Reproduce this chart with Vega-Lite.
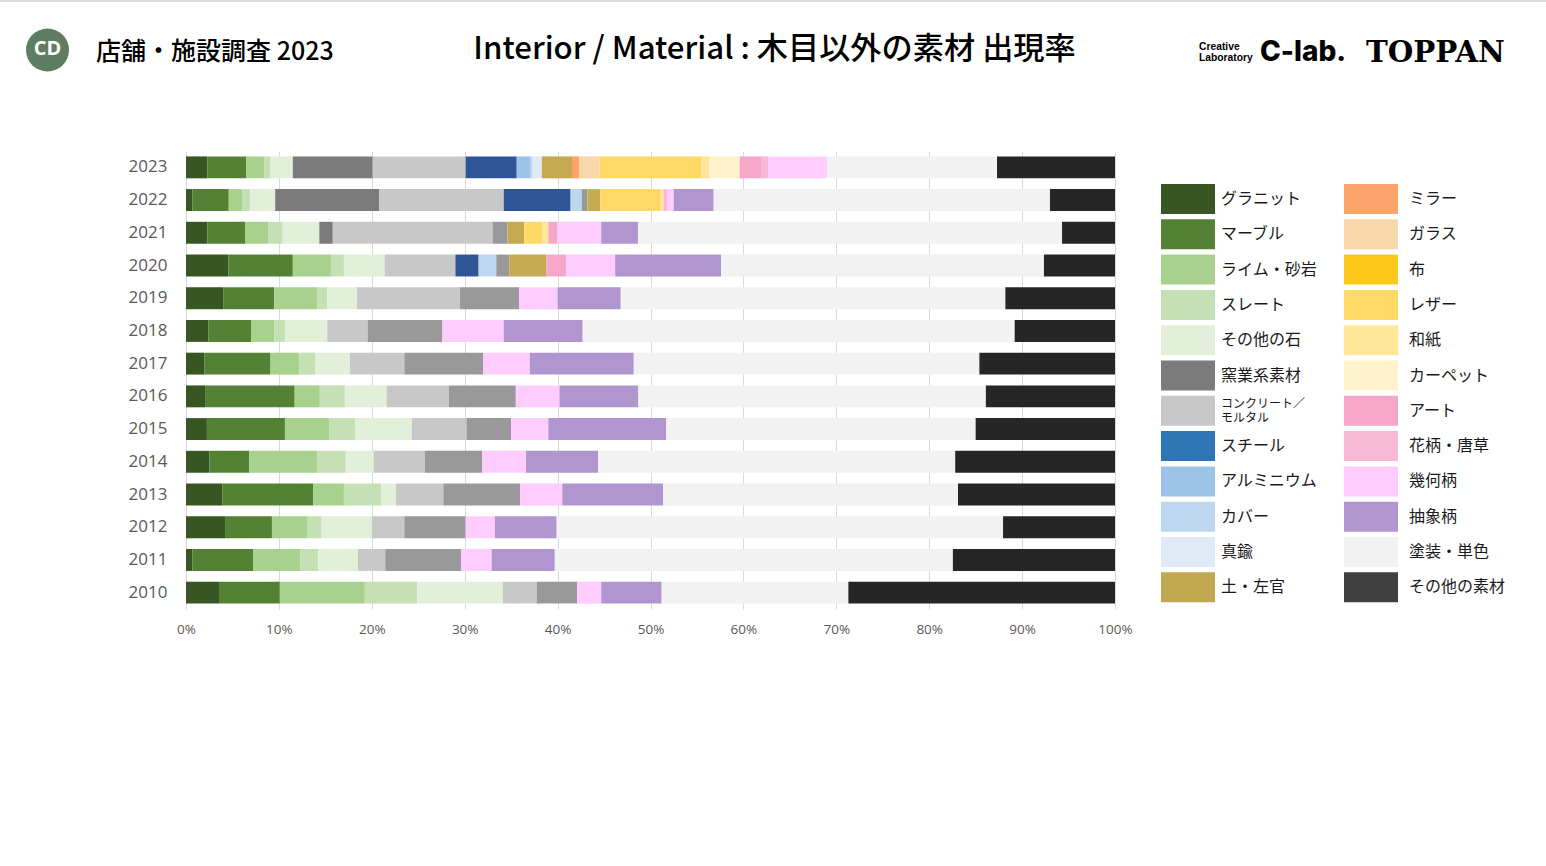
{"$schema":"https://vega.github.io/schema/vega-lite/v6.json","width":929,"height":458,"autosize":"none","padding":{"left":186,"top":151,"right":431,"bottom":257},"background":"#ffffff","config":{"view":{"stroke":null},"font":"Noto Sans CJK JP"},"resolve":{"scale":{"x":"independent","y":"independent","color":"independent"}},"layer":[{"data":{"values":[
{"year":2023,"material":"グラニット","value":2.3},{"year":2023,"material":"マーブル","value":4.2},{"year":2023,"material":"ライム・砂岩","value":1.9},{"year":2023,"material":"スレート","value":0.7},{"year":2023,"material":"その他の石","value":2.4},{"year":2023,"material":"窯業系素材","value":8.6},{"year":2023,"material":"コンクリート／モルタル","value":10.0},{"year":2023,"material":"スチール","value":5.5},{"year":2023,"material":"アルミニウム","value":1.5},{"year":2023,"material":"カバー","value":0.2},{"year":2023,"material":"真鍮","value":1.0},{"year":2023,"material":"土・左官","value":3.25},{"year":2023,"material":"ミラー","value":0.75},{"year":2023,"material":"ガラス","value":2.2},{"year":2023,"material":"レザー","value":11.0},{"year":2023,"material":"和紙","value":0.8},{"year":2023,"material":"カーペット","value":3.3},{"year":2023,"material":"アート","value":2.3},{"year":2023,"material":"花柄・唐草","value":0.8},{"year":2023,"material":"幾何柄","value":6.3},{"year":2023,"material":"塗装・単色","value":18.3},{"year":2023,"material":"その他の素材","value":12.7},
{"year":2022,"material":"グラニット","value":0.7},{"year":2022,"material":"マーブル","value":3.9},{"year":2022,"material":"ライム・砂岩","value":1.5},{"year":2022,"material":"スレート","value":0.8},{"year":2022,"material":"その他の石","value":2.7},{"year":2022,"material":"窯業系素材","value":11.2},{"year":2022,"material":"コンクリート／モルタル","value":13.4},{"year":2022,"material":"スチール","value":7.2},{"year":2022,"material":"カバー","value":1.2},{"year":2022,"material":"金属その他","value":0.6},{"year":2022,"material":"土・左官","value":1.4},{"year":2022,"material":"レザー","value":6.5},{"year":2022,"material":"和紙","value":0.3},{"year":2022,"material":"花柄・唐草","value":0.4},{"year":2022,"material":"幾何柄","value":0.7},{"year":2022,"material":"抽象柄","value":4.3},{"year":2022,"material":"塗装・単色","value":36.2},{"year":2022,"material":"その他の素材","value":7.0},
{"year":2021,"material":"グラニット","value":2.3},{"year":2021,"material":"マーブル","value":4.1},{"year":2021,"material":"ライム・砂岩","value":2.5},{"year":2021,"material":"スレート","value":1.5},{"year":2021,"material":"その他の石","value":3.95},{"year":2021,"material":"窯業系素材","value":1.45},{"year":2021,"material":"コンクリート／モルタル","value":17.2},{"year":2021,"material":"金属その他","value":1.6},{"year":2021,"material":"土・左官","value":1.8},{"year":2021,"material":"レザー","value":2.0},{"year":2021,"material":"和紙","value":0.6},{"year":2021,"material":"アート","value":1.0},{"year":2021,"material":"幾何柄","value":4.7},{"year":2021,"material":"抽象柄","value":3.95},{"year":2021,"material":"塗装・単色","value":45.65},{"year":2021,"material":"その他の素材","value":5.7},
{"year":2020,"material":"グラニット","value":4.55},{"year":2020,"material":"マーブル","value":6.95},{"year":2020,"material":"ライム・砂岩","value":4.1},{"year":2020,"material":"スレート","value":1.4},{"year":2020,"material":"その他の石","value":4.4},{"year":2020,"material":"コンクリート／モルタル","value":7.6},{"year":2020,"material":"スチール","value":2.5},{"year":2020,"material":"カバー","value":1.9},{"year":2020,"material":"金属その他","value":1.4},{"year":2020,"material":"土・左官","value":4.0},{"year":2020,"material":"アート","value":2.1},{"year":2020,"material":"幾何柄","value":5.3},{"year":2020,"material":"抽象柄","value":11.4},{"year":2020,"material":"塗装・単色","value":34.75},{"year":2020,"material":"その他の素材","value":7.65},
{"year":2019,"material":"グラニット","value":4.0},{"year":2019,"material":"マーブル","value":5.5},{"year":2019,"material":"ライム・砂岩","value":4.6},{"year":2019,"material":"スレート","value":1.1},{"year":2019,"material":"その他の石","value":3.2},{"year":2019,"material":"コンクリート／モルタル","value":11.1},{"year":2019,"material":"金属その他","value":6.35},{"year":2019,"material":"幾何柄","value":4.15},{"year":2019,"material":"抽象柄","value":6.8},{"year":2019,"material":"塗装・単色","value":41.4},{"year":2019,"material":"その他の素材","value":11.8},
{"year":2018,"material":"グラニット","value":2.4},{"year":2018,"material":"マーブル","value":4.6},{"year":2018,"material":"ライム・砂岩","value":2.5},{"year":2018,"material":"スレート","value":1.2},{"year":2018,"material":"その他の石","value":4.5},{"year":2018,"material":"コンクリート／モルタル","value":4.35},{"year":2018,"material":"金属その他","value":8.05},{"year":2018,"material":"幾何柄","value":6.6},{"year":2018,"material":"抽象柄","value":8.5},{"year":2018,"material":"塗装・単色","value":46.5},{"year":2018,"material":"その他の素材","value":10.8},
{"year":2017,"material":"グラニット","value":2.0},{"year":2017,"material":"マーブル","value":7.1},{"year":2017,"material":"ライム・砂岩","value":3.1},{"year":2017,"material":"スレート","value":1.7},{"year":2017,"material":"その他の石","value":3.75},{"year":2017,"material":"コンクリート／モルタル","value":5.85},{"year":2017,"material":"金属その他","value":8.5},{"year":2017,"material":"幾何柄","value":5.0},{"year":2017,"material":"抽象柄","value":11.2},{"year":2017,"material":"塗装・単色","value":37.2},{"year":2017,"material":"その他の素材","value":14.6},
{"year":2016,"material":"グラニット","value":2.05},{"year":2016,"material":"マーブル","value":9.65},{"year":2016,"material":"ライム・砂岩","value":2.7},{"year":2016,"material":"スレート","value":2.7},{"year":2016,"material":"その他の石","value":4.5},{"year":2016,"material":"コンクリート／モルタル","value":6.7},{"year":2016,"material":"金属その他","value":7.2},{"year":2016,"material":"幾何柄","value":4.7},{"year":2016,"material":"抽象柄","value":8.5},{"year":2016,"material":"塗装・単色","value":37.4},{"year":2016,"material":"その他の素材","value":13.9},
{"year":2015,"material":"グラニット","value":2.25},{"year":2015,"material":"マーブル","value":8.4},{"year":2015,"material":"ライム・砂岩","value":4.75},{"year":2015,"material":"スレート","value":2.8},{"year":2015,"material":"その他の石","value":6.1},{"year":2015,"material":"コンクリート／モルタル","value":5.9},{"year":2015,"material":"金属その他","value":4.8},{"year":2015,"material":"幾何柄","value":4.0},{"year":2015,"material":"抽象柄","value":12.7},{"year":2015,"material":"塗装・単色","value":33.3},{"year":2015,"material":"その他の素材","value":15.0},
{"year":2014,"material":"グラニット","value":2.5},{"year":2014,"material":"マーブル","value":4.3},{"year":2014,"material":"ライム・砂岩","value":7.3},{"year":2014,"material":"スレート","value":3.1},{"year":2014,"material":"その他の石","value":3.0},{"year":2014,"material":"コンクリート／モルタル","value":5.5},{"year":2014,"material":"金属その他","value":6.2},{"year":2014,"material":"幾何柄","value":4.7},{"year":2014,"material":"抽象柄","value":7.75},{"year":2014,"material":"塗装・単色","value":38.45},{"year":2014,"material":"その他の素材","value":17.2},
{"year":2013,"material":"グラニット","value":3.9},{"year":2013,"material":"マーブル","value":9.8},{"year":2013,"material":"ライム・砂岩","value":3.3},{"year":2013,"material":"スレート","value":4.0},{"year":2013,"material":"その他の石","value":1.6},{"year":2013,"material":"コンクリート／モルタル","value":5.1},{"year":2013,"material":"金属その他","value":8.25},{"year":2013,"material":"幾何柄","value":4.55},{"year":2013,"material":"抽象柄","value":10.85},{"year":2013,"material":"塗装・単色","value":31.75},{"year":2013,"material":"その他の素材","value":16.9},
{"year":2012,"material":"グラニット","value":4.2},{"year":2012,"material":"マーブル","value":5.05},{"year":2012,"material":"ライム・砂岩","value":3.85},{"year":2012,"material":"スレート","value":1.5},{"year":2012,"material":"その他の石","value":5.4},{"year":2012,"material":"コンクリート／モルタル","value":3.5},{"year":2012,"material":"金属その他","value":6.6},{"year":2012,"material":"幾何柄","value":3.15},{"year":2012,"material":"抽象柄","value":6.65},{"year":2012,"material":"塗装・単色","value":48.05},{"year":2012,"material":"その他の素材","value":12.05},
{"year":2011,"material":"グラニット","value":0.7},{"year":2011,"material":"マーブル","value":6.55},{"year":2011,"material":"ライム・砂岩","value":5.05},{"year":2011,"material":"スレート","value":1.95},{"year":2011,"material":"その他の石","value":4.25},{"year":2011,"material":"コンクリート／モルタル","value":2.95},{"year":2011,"material":"金属その他","value":8.15},{"year":2011,"material":"幾何柄","value":3.3},{"year":2011,"material":"抽象柄","value":6.8},{"year":2011,"material":"塗装・単色","value":42.85},{"year":2011,"material":"その他の素材","value":17.45},
{"year":2010,"material":"グラニット","value":3.55},{"year":2010,"material":"マーブル","value":6.55},{"year":2010,"material":"ライム・砂岩","value":9.15},{"year":2010,"material":"スレート","value":5.65},{"year":2010,"material":"その他の石","value":9.2},{"year":2010,"material":"コンクリート／モルタル","value":3.65},{"year":2010,"material":"金属その他","value":4.35},{"year":2010,"material":"幾何柄","value":2.6},{"year":2010,"material":"抽象柄","value":6.5},{"year":2010,"material":"塗装・単色","value":20.1},{"year":2010,"material":"その他の素材","value":28.7}
]},"transform":[{"calculate":"indexof(['グラニット','マーブル','ライム・砂岩','スレート','その他の石','窯業系素材','コンクリート／モルタル','スチール','アルミニウム','カバー','真鍮','金属その他','土・左官','ミラー','ガラス','布','レザー','和紙','カーペット','アート','花柄・唐草','幾何柄','抽象柄','塗装・単色','その他の素材'],datum.material)","as":"seq"}],"mark":{"type":"bar","stroke":null},"encoding":{"y":{"field":"year","type":"ordinal","sort":"descending","scale":{"paddingInner":0.33,"paddingOuter":0.165},"axis":{"title":null,"ticks":false,"domain":false,"labelPadding":19,"labelFontSize":17,"labelColor":"#595959","labelFont":"Open Sans"}},"x":{"field":"value","type":"quantitative","stack":"zero","scale":{"domain":[0,100],"nice":false},"axis":{"title":null,"values":[0,10,20,30,40,50,60,70,80,90,100],"labelExpr":"datum.value + '%'","labelFlush":false,"ticks":false,"domain":false,"grid":true,"gridColor":"#d9d9d9","labelPadding":13,"labelFontSize":13.5,"labelColor":"#595959","labelFont":"Open Sans"}},"order":{"field":"seq","type":"quantitative"},"color":{"field":"material","type":"nominal","scale":{"domain":["グラニット","マーブル","ライム・砂岩","スレート","その他の石","窯業系素材","コンクリート／モルタル","スチール","アルミニウム","カバー","真鍮","金属その他","土・左官","ミラー","ガラス","布","レザー","和紙","カーペット","アート","花柄・唐草","幾何柄","抽象柄","塗装・単色","その他の素材"],"range":["#375623","#548235","#a9d18e","#c5e0b4","#e2f0d9","#7b7b7b","#c8c8c8","#2f5597","#9dc3e6","#bdd7ee","#deebf7","#999999","#c5aa52","#fba56a","#f8d7ab","#ffc91b","#ffd966","#ffe699","#fff2cc","#f6a6c9","#f7b8d6","#ffccff","#b095cf","#f2f2f2","#262626"]},"legend":null}}},
{"data":{"values":[{"material":"グラニット"},{"material":"マーブル"},{"material":"ライム・砂岩"},{"material":"スレート"},{"material":"その他の石"},{"material":"窯業系素材"},{"material":"コンクリート／モルタル"},{"material":"スチール"},{"material":"アルミニウム"},{"material":"カバー"},{"material":"真鍮"},{"material":"土・左官"},{"material":"ミラー"},{"material":"ガラス"},{"material":"布"},{"material":"レザー"},{"material":"和紙"},{"material":"カーペット"},{"material":"アート"},{"material":"花柄・唐草"},{"material":"幾何柄"},{"material":"抽象柄"},{"material":"塗装・単色"},{"material":"その他の素材"}]},"mark":{"type":"bar","opacity":0},"encoding":{"color":{"field":"material","type":"nominal","scale":{"domain":["グラニット","マーブル","ライム・砂岩","スレート","その他の石","窯業系素材","コンクリート／モルタル","スチール","アルミニウム","カバー","真鍮","土・左官","ミラー","ガラス","布","レザー","和紙","カーペット","アート","花柄・唐草","幾何柄","抽象柄","塗装・単色","その他の素材"],"range":["#375623","#548235","#a9d18e","#c5e0b4","#e2f0d9","#7b7b7b","#c8c8c8","#2e75b6","#9dc3e6","#bdd7ee","#deebf7","#bfa84f","#fba56a","#f8d7ab","#ffc91b","#ffd966","#ffe699","#fff2cc","#f6a6c9","#f7b8d6","#ffccff","#b095cf","#f2f2f2","#404040"]},"legend":{"title":null,"orient":"none","legendX":992,"legendY":38,"columns":2,"direction":"vertical","symbolType":"M-2.7,-1.5H2.7V1.5H-2.7Z","symbolSize":400,"symbolStrokeWidth":0,"symbolOpacity":1,"labelOpacity":1,"labelFontSize":16,"labelColor":"#1a1a1a","labelFont":"Noto Sans CJK JP","labelOffset":23,"labelLimit":200,"rowPadding":5.3,"columnPadding":26,"labelExpr":"datum.label == 'コンクリート／モルタル' ? ['コンクリート／','モルタル'] : datum.label","encoding":{"labels":{"fontSize":{"value":{"signal":"datum.value == 'コンクリート／モルタル' ? 12 : 16"}},"dy":{"value":{"signal":"datum.value == 'コンクリート／モルタル' ? -7 : 0"}},"dx":{"value":{"signal":"datum.index >= 12 ? 5 : 0"}}}}}}}},
{"data":{"values":[{"from":"left","to":"right","line":"top"}]},"mark":{"type":"rule","color":"#cfcfcf","strokeWidth":1.5},"encoding":{"x":{"field":"from","type":"nominal","axis":null,"scale":{"type":"point","domain":["left","right"],"range":[-186,1360],"padding":0}},"x2":{"field":"to"},"y":{"field":"line","type":"nominal","axis":null,"scale":{"type":"point","domain":["top"],"range":[-150,-150]}}}},
{"data":{"values":[{"label":"","slot":"logo"}]},"mark":{"type":"point","filled":true,"size":1849,"color":"#5f7d62","opacity":1},"encoding":{"x":{"field":"slot","type":"nominal","axis":null,"scale":{"type":"point","domain":["logo"],"range":[-138.5,-138.5]}},"y":{"field":"slot","type":"nominal","axis":null,"scale":{"type":"point","domain":["logo"],"range":[-101,-101]}}}},
{"data":{"values":[{"label":"CD","slot":"logo"}]},"mark":{"type":"text","color":"#ffffff","fontWeight":"bold","fontSize":20,"font":"Open Sans","align":"center","baseline":"middle"},"encoding":{"text":{"field":"label"},"x":{"field":"slot","type":"nominal","axis":null,"scale":{"type":"point","domain":["logo"],"range":[-138.5,-138.5]}},"y":{"field":"slot","type":"nominal","axis":null,"scale":{"type":"point","domain":["logo"],"range":[-102,-102]}}}},
{"data":{"values":[{"label":"店舗・施設調査 2023","slot":"survey"}]},"mark":{"type":"text","color":"#000000","fontWeight":500,"fontSize":25,"font":"Noto Sans CJK JP","align":"left","baseline":"middle"},"encoding":{"text":{"field":"label"},"x":{"field":"slot","type":"nominal","axis":null,"scale":{"type":"point","domain":["survey"],"range":[-90,-90]}},"y":{"field":"slot","type":"nominal","axis":null,"scale":{"type":"point","domain":["survey"],"range":[-99,-99]}}}},
{"data":{"values":[{"label":"Interior / Material : 木目以外の素材 出現率","slot":"title"}]},"mark":{"type":"text","color":"#000000","fontWeight":500,"fontSize":31.2,"font":"Noto Sans CJK JP","align":"center","baseline":"middle"},"encoding":{"text":{"field":"label"},"x":{"field":"slot","type":"nominal","axis":null,"scale":{"type":"point","domain":["title"],"range":[588.5,588.5]}},"y":{"field":"slot","type":"nominal","axis":null,"scale":{"type":"point","domain":["title"],"range":[-101,-101]}}}},
{"data":{"values":[{"label":"Creative\nLaboratory","slot":"creative"}]},"mark":{"type":"text","color":"#000000","fontWeight":"bold","fontSize":10.3,"font":"Liberation Sans","align":"left","baseline":"middle","lineBreak":"\n","lineHeight":11},"encoding":{"text":{"field":"label"},"x":{"field":"slot","type":"nominal","axis":null,"scale":{"type":"point","domain":["creative"],"range":[1013,1013]}},"y":{"field":"slot","type":"nominal","axis":null,"scale":{"type":"point","domain":["creative"],"range":[-104,-104]}}}},
{"data":{"values":[{"label":"C-lab.","slot":"clab"}]},"mark":{"type":"text","color":"#000000","fontWeight":800,"fontSize":28,"font":"Inter","align":"left","baseline":"middle"},"encoding":{"text":{"field":"label"},"x":{"field":"slot","type":"nominal","axis":null,"scale":{"type":"point","domain":["clab"],"range":[1074,1074]}},"y":{"field":"slot","type":"nominal","axis":null,"scale":{"type":"point","domain":["clab"],"range":[-98,-98]}}}},
{"data":{"values":[{"label":"TOPPAN","slot":"toppan"}]},"mark":{"type":"text","color":"#000000","fontWeight":"bold","fontSize":29.3,"font":"DejaVu Serif","align":"left","baseline":"middle"},"encoding":{"text":{"field":"label"},"x":{"field":"slot","type":"nominal","axis":null,"scale":{"type":"point","domain":["toppan"],"range":[1180,1180]}},"y":{"field":"slot","type":"nominal","axis":null,"scale":{"type":"point","domain":["toppan"],"range":[-98,-98]}}}}
]}
